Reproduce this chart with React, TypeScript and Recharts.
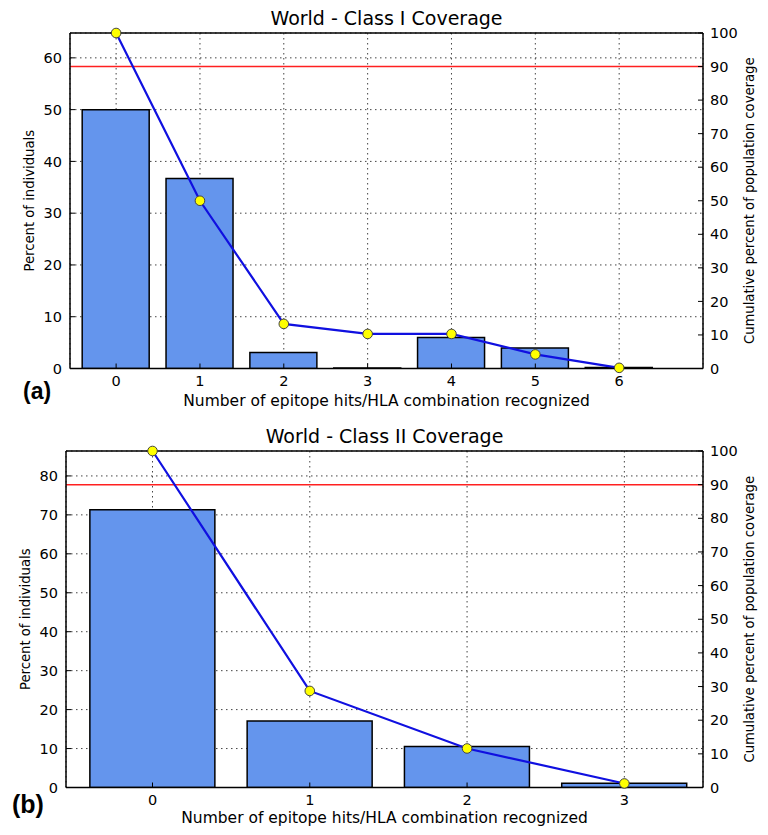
import * as React from 'react'
import {
	ComposedChart,
	Bar,
	Line,
	XAxis,
	YAxis,
	CartesianGrid,
	ReferenceLine,
	Label,
} from 'recharts'

// Class I: number of epitope hits per HLA combination
const classOneHits = [0, 1, 2, 3, 4, 5, 6]
const classOnePercent = [50.0, 36.7, 3.1, 0.1, 6.0, 3.95, 0.2]
const classOneCumulative = [100, 50.0, 13.3, 10.3, 10.3, 4.2, 0.2]

// Class II
const classTwoHits = [0, 1, 2, 3]
const classTwoPercent = [71.3, 17.1, 10.5, 1.1]
const classTwoCumulative = [100, 28.7, 11.6, 1.2]

const leftTicksOne = [0, 10, 20, 30, 40, 50, 60]
const leftTicksTwo = [0, 10, 20, 30, 40, 50, 60, 70, 80]
const rightTicks = [0, 10, 20, 30, 40, 50, 60, 70, 80, 90, 100]

const FONT = '"DejaVu Sans", sans-serif'

type CoverageProps = {
	title: string
	panel: string
	hits: number[]
	percent: number[]
	cumulative: number[]
	leftMax: number
	leftTicks: number[]
	xMax: number
	barSize: number
	top: number
	height: number
	plotTop: number
	plotLeft: number
	axisHeight: number
	panelLeft: number
	panelTop: number
	panelSize: number
}

const CoverageChart = ({
	title,
	panel,
	hits,
	percent,
	cumulative,
	leftMax,
	leftTicks,
	xMax,
	barSize,
	top,
	height,
	plotTop,
	plotLeft,
	axisHeight,
	panelLeft,
	panelTop,
	panelSize,
}: CoverageProps) => {
	const data = hits.map((h, i) => ({
		hits: h,
		percent: percent[i],
		cumulative: cumulative[i],
	}))
	const tick = { fontSize: 14.5, fill: '#000', fontFamily: FONT }
	return (
		<div style={{ position: 'absolute', left: 0, top, width: 768, height }}>
			<div
				style={{
					position: 'absolute',
					left: plotLeft,
					width: 703 - plotLeft,
					top: plotTop - 26,
					textAlign: 'center',
					fontFamily: FONT,
					fontSize: 19,
					lineHeight: '22px',
				}}
			>
				{title}
			</div>
			<div
				style={{
					position: 'absolute',
					left: panelLeft,
					top: panelTop,
					fontFamily: '"Liberation Sans", Arial, sans-serif',
					fontWeight: 'bold',
					fontSize: panelSize,
					lineHeight: 1,
				}}
			>
				{panel}
			</div>
			<ComposedChart
				width={768}
				height={height}
				data={data}
				margin={{ top: plotTop, right: 0, bottom: 0, left: 0 }}
			>
				<CartesianGrid
					xAxisId="x"
					yAxisId="left"
					stroke="#444"
					strokeDasharray="1.5 3.5"
				/>
				<XAxis
					xAxisId="x"
					dataKey="hits"
					type="number"
					domain={[-0.55, xMax]}
					allowDataOverflow
					ticks={hits}
					height={axisHeight}
					tick={tick}
					tickSize={-5}
					tickMargin={12}
					axisLine={{ stroke: '#000', strokeWidth: 1.5 }}
					tickLine={{ stroke: '#000' }}
				>
					<Label
						value="Number of epitope hits/HLA combination recognized"
						position="center"
						dy={6}
						style={{ fontSize: 15.5, fill: '#000', fontFamily: FONT }}
					/>
				</XAxis>
				<YAxis
					yAxisId="left"
					orientation="left"
					width={plotLeft}
					domain={[0, leftMax]}
					allowDataOverflow
					ticks={leftTicks}
					tick={tick}
					tickSize={-5}
					tickMargin={13}
					axisLine={{ stroke: '#000', strokeWidth: 1.5 }}
					tickLine={{ stroke: '#000' }}
				>
					<Label
						value="Percent of individuals"
						angle={-90}
						position="center"
						dx={plotLeft / 2 - 41}
						style={{ fontSize: 13.2, fill: '#000', fontFamily: FONT }}
					/>
				</YAxis>
				<YAxis
					yAxisId="right"
					orientation="right"
					width={65}
					domain={[0, 100]}
					ticks={rightTicks}
					tick={tick}
					tickSize={-5}
					tickMargin={12}
					axisLine={{ stroke: '#000', strokeWidth: 1.5 }}
					tickLine={{ stroke: '#000' }}
				>
					<Label
						value="Cumulative percent of population coverage"
						angle={-90}
						position="center"
						dx={14}
						style={{ fontSize: 13.2, fill: '#000', fontFamily: FONT }}
					/>
				</YAxis>
				<ReferenceLine
					xAxisId="x"
					yAxisId="left"
					y={leftMax}
					stroke="#000"
					strokeWidth={1.5}
				/>
				<Bar
					xAxisId="x"
					yAxisId="left"
					dataKey="percent"
					barSize={barSize}
					fill="#6495ed"
					stroke="#000"
					strokeWidth={1.5}
					isAnimationActive={false}
				/>
				<ReferenceLine
					xAxisId="x"
					yAxisId="right"
					y={90}
					stroke="#ff2020"
					strokeWidth={1.5}
				/>
				<Line
					xAxisId="x"
					yAxisId="right"
					dataKey="cumulative"
					type="linear"
					stroke="#1010e0"
					strokeWidth={2.2}
					dot={{ r: 4.8, fill: '#ffff00', stroke: '#444', strokeWidth: 1 }}
					isAnimationActive={false}
				/>
			</ComposedChart>
		</div>
	)
}

export default function App() {
	return (
		<div
			style={{
				position: 'absolute',
				left: 0,
				top: 0,
				width: 768,
				height: 835,
				background: '#fff',
			}}
		>
			<CoverageChart
				title="World - Class I Coverage"
				panel="(a)"
				hits={classOneHits}
				percent={classOnePercent}
				cumulative={classOneCumulative}
				leftMax={64.8}
				leftTicks={leftTicksOne}
				xMax={7}
				barSize={67}
				top={0}
				height={420}
				plotTop={33}
				plotLeft={70}
				axisHeight={51.5}
				panelLeft={23}
				panelTop={380}
				panelSize={23}
			/>
			<CoverageChart
				title="World - Class II Coverage"
				panel="(b)"
				hits={classTwoHits}
				percent={classTwoPercent}
				cumulative={classTwoCumulative}
				leftMax={86.4}
				leftTicks={leftTicksTwo}
				xMax={3.5}
				barSize={125}
				top={420}
				height={415}
				plotTop={31}
				plotLeft={66}
				axisHeight={47.5}
				panelLeft={12}
				panelTop={372}
				panelSize={25}
			/>
		</div>
	)
}
